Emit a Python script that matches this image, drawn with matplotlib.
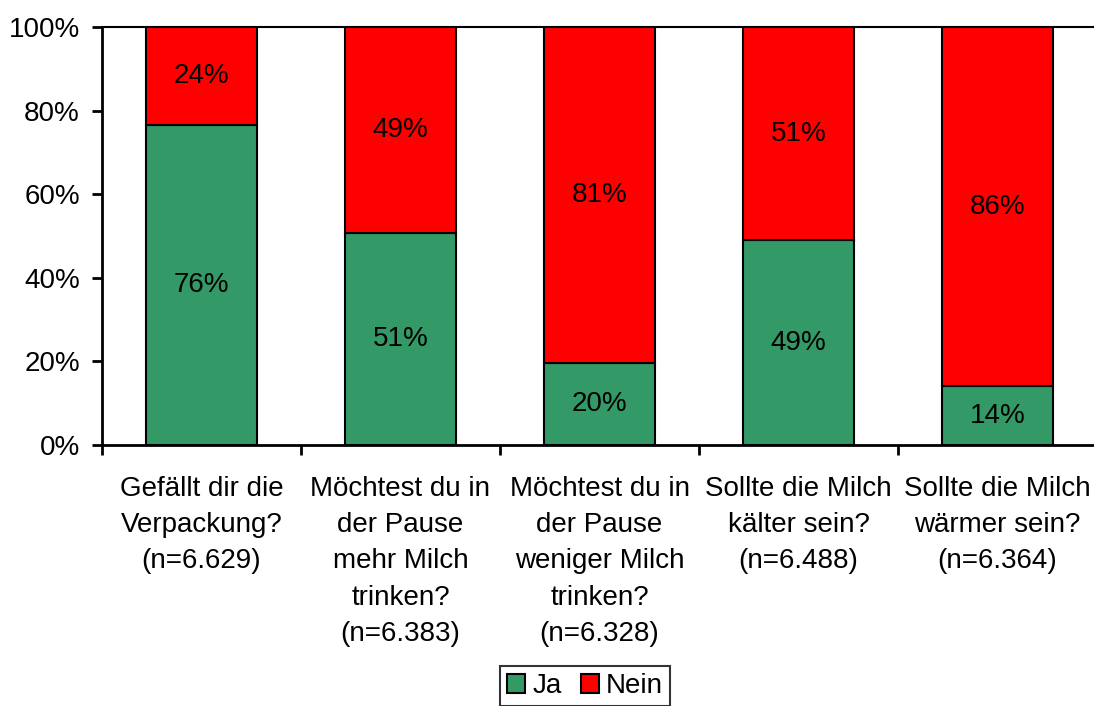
import matplotlib
matplotlib.use("Agg")
import matplotlib.pyplot as plt
from matplotlib.patches import Patch

plt.rcParams['font.family'] = ['Liberation Sans', 'DejaVu Sans']

categories = [
    "Gefällt dir die\nVerpackung?\n(n=6.629)",
    "Möchtest du in\nder Pause\nmehr Milch\ntrinken?\n(n=6.383)",
    "Möchtest du in\nder Pause\nweniger Milch\ntrinken?\n(n=6.328)",
    "Sollte die Milch\nkälter sein?\n(n=6.488)",
    "Sollte die Milch\nwärmer sein?\n(n=6.364)",
]
ja = [76.5, 50.7, 19.6, 49.0, 14.1]
nein = [23.5, 49.3, 80.4, 51.0, 85.9]
ja_labels = ["76%", "51%", "20%", "49%", "14%"]
nein_labels = ["24%", "49%", "81%", "51%", "86%"]

green = "#339966"
red = "#FF0000"
fs = 20

fig = plt.figure(figsize=(10.94, 7.06), dpi=100)
W, H = 1094, 706
left, right, top, bottom = 102, 1097, 27, 445
ax = fig.add_axes([left / W, 1 - bottom / H, (right - left) / W, (bottom - top) / H])

x = list(range(len(categories)))
bw = 0.553
ax.bar(x, ja, width=bw, color=green, edgecolor="black", linewidth=1.5, zorder=3)
ax.bar(x, nein, width=bw, bottom=ja, color=red, edgecolor="black", linewidth=1.5, zorder=3)

for i in x:
    ax.text(i, ja[i] / 2, ja_labels[i], ha="center", va="center", fontsize=fs, zorder=4)
    ax.text(i, ja[i] + nein[i] / 2, nein_labels[i], ha="center", va="center", fontsize=fs, zorder=4)

ax.set_xlim(-0.5, len(categories) - 0.5)
ax.set_ylim(0, 100)
ax.set_yticks([0, 20, 40, 60, 80, 100])
ax.set_yticklabels(["0%", "20%", "40%", "60%", "80%", "100%"], fontsize=fs)
ax.axhline(100, color="black", linewidth=1.5, zorder=2, clip_on=False)

# category boundaries as ticks
ax.set_xticks([i - 0.5 for i in range(len(categories))], minor=False)
ax.set_xticklabels([])
ax.set_xticks(x, minor=True)
ax.set_xticklabels(categories, minor=True, fontsize=fs, linespacing=1.52)
ax.tick_params(axis="x", which="minor", length=0, pad=22)
ax.tick_params(axis="x", which="major", length=7, width=2, direction="out")
ax.tick_params(axis="y", length=7, width=2, direction="out", pad=9)

for s in ["top", "right"]:
    ax.spines[s].set_visible(False)
for s in ["left", "bottom"]:
    ax.spines[s].set_linewidth(2)

handles = [Patch(facecolor=green, edgecolor="black", linewidth=1.5, label="Ja"),
           Patch(facecolor=red, edgecolor="black", linewidth=1.5, label="Nein")]
leg = fig.legend(handles=handles, loc="center", bbox_to_anchor=(585 / W, 1 - 686 / H),
                 ncol=2, fontsize=fs, frameon=True, fancybox=False, edgecolor="black",
                 handlelength=0.65, handleheight=0.65, handletextpad=0.25, columnspacing=0.7,
                 borderpad=0.25, borderaxespad=0)
leg.get_frame().set_linewidth(1.5)

fig.savefig("out.png", dpi=100)
